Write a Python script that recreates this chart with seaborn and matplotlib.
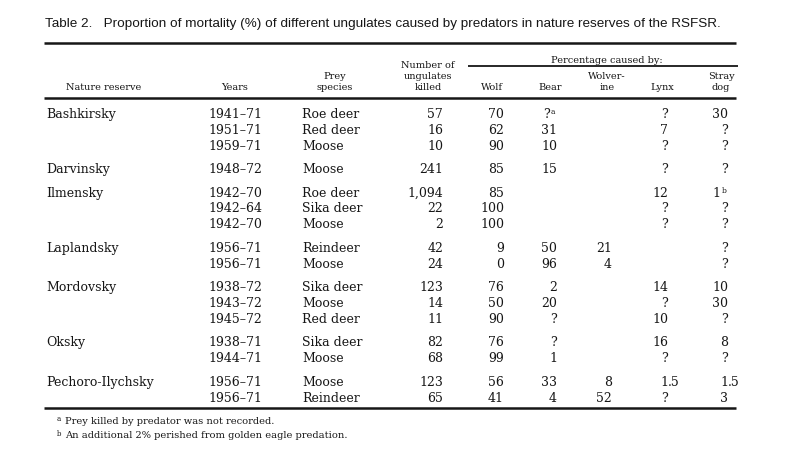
import numpy as np
import matplotlib.pyplot as plt
import seaborn as sns

title = "Table 2.   Proportion of mortality (%) of different ungulates caused by predators in nature reserves of the RSFSR."
reserves = ["Bashkirsky", "Darvinsky", "Ilmensky", "Laplandsky", "Mordovsky", "Oksky", "Pechoro-Ilychsky"]
group_sizes = [3, 1, 3, 2, 3, 2, 2]
years = ["1941–71", "1951–71", "1959–71", "1948–72", "1942–70", "1942–64", "1942–70", "1956–71",
         "1956–71", "1938–72", "1943–72", "1945–72", "1938–71", "1944–71", "1956–71", "1956–71"]
prey = ["Roe deer", "Red deer", "Moose", "Moose", "Roe deer", "Sika deer", "Moose", "Reindeer",
        "Moose", "Sika deer", "Moose", "Red deer", "Sika deer", "Moose", "Moose", "Reindeer"]
killed = ["57", "16", "10", "241", "1,094", "22", "2", "42", "24", "123", "14", "11", "82", "68", "123", "65"]
wolf = ["70", "62", "90", "85", "85", "100", "100", "9", "0", "76", "50", "90", "76", "99", "56", "41"]
bear = ["?^a", "31", "10", "15", "", "", "", "50", "96", "2", "20", "?", "?", "1", "33", "4"]
wolverine = ["", "", "", "", "", "", "", "21", "4", "", "", "", "", "", "8", "52"]
lynx = ["?", "7", "?", "?", "12", "?", "?", "", "", "14", "?", "10", "16", "?", "1.5", "?"]
stray = ["30", "?", "?", "?", "1^b", "?", "?", "?", "?", "10", "30", "?", "8", "?", "1.5", "3"]
footnotes = [("a", "Prey killed by predator was not recorded."),
             ("b", "An additional 2% perished from golden eagle predation.")]

sns.set_style("white")
plt.rcParams['font.family'] = ['DejaVu Serif']

ink = "#161616"
fig = plt.figure(figsize=(8, 4.63), dpi=100)
ax = fig.add_axes([0, 0, 1, 1])
ax.set_xlim(0, 800)
ax.set_ylim(463, 0)
ax.axis("off")

ax.text(45, 27, title, family="Liberation Sans", fontsize=9.7, color=ink, va="baseline")

# rules
ax.hlines([43, 98, 408], 44, 736, color=ink, lw=1.8)
ax.hlines(66, 468, 738, color=ink, lw=1.3)

hfs = 7.0
def head(x, lines, y_last=90.5):
    for i, s in enumerate(reversed(lines)):
        ax.text(x, y_last - i * 11.5, s, fontsize=hfs, ha="center", va="baseline", color=ink)

head(104, ["Nature reserve"])
head(235, ["Years"])
head(335, ["Prey", "species"])
head(428, ["Number of", "ungulates", "killed"])
head(607, ["Percentage caused by:"], 63)
head(492, ["Wolf"])
head(550, ["Bear"])
head(607, ["Wolver-", "ine"])
head(662, ["Lynx"])
head(721, ["Stray", "dog"])

# row positions
group_idx = np.repeat(np.arange(len(group_sizes)), group_sizes)
row_y = 113.5 + np.arange(len(years)) * 15.9 + group_idx * 7.5 + 4.5

bfs = 9.0
digit_w = 7.2

def cell(x, y, s):
    if not s:
        return
    if "^" in s:
        base, sup = s.split("^")
        ax.text(x - digit_w, y, base, fontsize=bfs, ha="right", va="baseline", color=ink)
        ax.text(x - digit_w + 0.5, y - 4, sup, fontsize=5.5, ha="left", va="baseline", color=ink)
    elif "." in s:
        ip, fp = s.split(".")
        ax.text(x, y, ip, fontsize=bfs, ha="right", va="baseline", color=ink)
        ax.text(x, y, "." + fp, fontsize=bfs, ha="left", va="baseline", color=ink)
    else:
        ax.text(x, y, s, fontsize=bfs, ha="right", va="baseline", color=ink)

starts = np.cumsum([0] + group_sizes[:-1])
for name, st in zip(reserves, starts):
    ax.text(46, row_y[st], name, fontsize=bfs, ha="left", va="baseline", color=ink)

cols = [(443, killed), (504, wolf), (557, bear), (612, wolverine), (668, lynx), (728, stray)]
for i, y in enumerate(row_y):
    ax.text(235, y, years[i], fontsize=bfs, ha="center", va="baseline", color=ink)
    ax.text(302, y, prey[i], fontsize=bfs, ha="left", va="baseline", color=ink)
    for x, vals in cols:
        cell(x, y, vals[i])

for k, (mark, note) in enumerate(footnotes):
    y = 424 + k * 14.5
    ax.text(57, y - 3, mark, fontsize=5, ha="left", va="baseline", color=ink)
    ax.text(65, y, note, fontsize=7.1, ha="left", va="baseline", color=ink)

plt.savefig("out.png", dpi=100)
